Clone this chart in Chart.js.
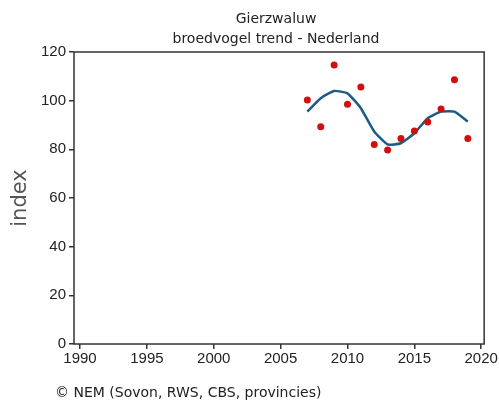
<!DOCTYPE html>
<html>
<head>
<meta charset="utf-8">
<script src="https://cdn.jsdelivr.net/npm/chart.js@4"></script>
<style>
  html, body { margin: 0; padding: 0; background: #fff; }
  #wrap { width: 499px; height: 401px; }
</style>
</head>
<body>
<div id="wrap"><canvas id="chart" width="499" height="401"></canvas></div>
<script>
// data
const years = [2007, 2008, 2009, 2010, 2011, 2012, 2013, 2014, 2015, 2016, 2017, 2018, 2019];
const indexValues = [100.3, 89.3, 114.7, 98.5, 105.6, 82, 79.7, 84.5, 87.5, 91.2, 96.6, 108.6, 84.5];
const trendValues = [95.5, 101, 104, 103, 96.9, 87.3, 82, 82.5, 86.6, 92.8, 95.5, 95.5, 91.4];
const xTicks = [1990, 1995, 2000, 2005, 2010, 2015, 2020];
const yTicks = [0, 20, 40, 60, 80, 100, 120];

const titleLines = ['Gierzwaluw', 'broedvogel trend - Nederland'];
const footerText = '\u00A9 NEM (Sovon, RWS, CBS, provincies)';

// frame around the plot + title and footer text
const framePlugin = {
  id: 'frame',
  afterDraw(chart) {
    const ctx = chart.ctx;
    const a = chart.chartArea;
    ctx.save();
    ctx.strokeStyle = '#333';
    ctx.lineWidth = 1.5;
    ctx.strokeRect(a.left, a.top, a.right - a.left, a.bottom - a.top);

    ctx.fillStyle = '#222';
    ctx.font = '14px "DejaVu Sans"';
    ctx.textAlign = 'center';
    ctx.textBaseline = 'middle';
    ctx.fillText(titleLines[0], 276, 19);
    ctx.fillText(titleLines[1], 276, 39);

    ctx.textAlign = 'left';
    ctx.fillText(footerText, 55, 393);
    ctx.restore();
  }
};

const ctx = document.getElementById('chart').getContext('2d');
const chart = new Chart(ctx, {
  type: 'line',
  data: {
    datasets: [
      {
        label: 'trend',
        data: years.map((y, i) => ({ x: y, y: trendValues[i] })),
        borderColor: '#1d5b86',
        borderWidth: 2.5,
        pointRadius: 0,
        tension: 0.15,
        fill: false,
        order: 2
      },
      {
        label: 'index',
        data: years.map((y, i) => ({ x: y, y: indexValues[i] })),
        showLine: false,
        pointRadius: 3.5,
        pointBackgroundColor: '#d01010',
        pointBorderColor: '#d01010',
        pointBorderWidth: 0,
        order: 1
      }
    ]
  },
  options: {
    responsive: false,
    animation: false,
    layout: { padding: { left: 8, top: 52, right: 14, bottom: 0 } },
    plugins: {
      legend: { display: false },
      tooltip: { enabled: false }
    },
    scales: {
      x: {
        type: 'linear',
        min: 1989.55,
        max: 2020.22,
        afterBuildTicks: s => { s.ticks = xTicks.map(v => ({ value: v })); },
        afterFit: s => { s.height = 57; },
        grid: { drawOnChartArea: false, drawTicks: true, tickLength: 5, color: '#333', lineWidth: 1.5 },
        border: { display: false },
        ticks: {
          color: '#222',
          font: { family: 'Liberation Sans', size: 15 },
          padding: 1,
          maxRotation: 0,
          callback: v => String(v)
        }
      },
      y: {
        min: 0,
        max: 120,
        afterBuildTicks: s => { s.ticks = yTicks.map(v => ({ value: v })); },
        afterFit: s => { s.width = 66; },
        grid: { drawOnChartArea: false, drawTicks: true, tickLength: 5, color: '#333', lineWidth: 1.5 },
        border: { display: false },
        ticks: { color: '#222', font: { family: 'Liberation Sans', size: 15 }, padding: 3 },
        title: {
          display: true,
          text: 'index',
          color: '#555',
          font: { family: 'DejaVu Sans', size: 21 },
          padding: { top: 0, bottom: 0 }
        }
      }
    }
  },
  plugins: [framePlugin]
});
</script>
</body>
</html>
